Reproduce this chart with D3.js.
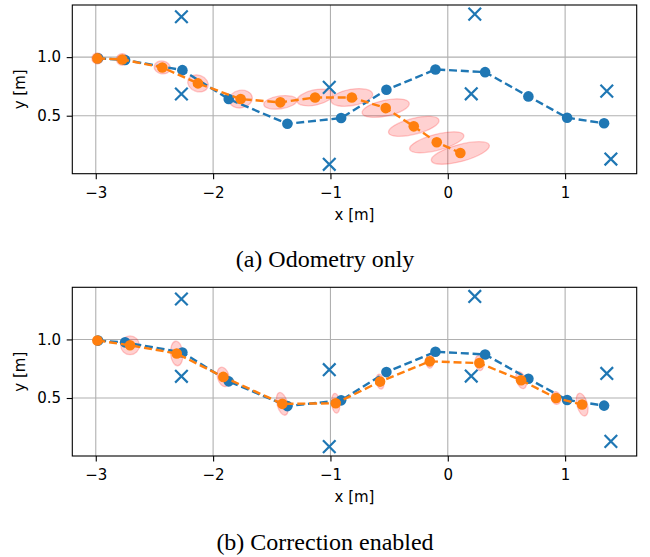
<!DOCTYPE html>
<html>
<head>
<meta charset="utf-8">
<script src="https://cdn.jsdelivr.net/npm/d3@7"></script>
<style>
  body { margin: 0; background: #fff; }
  svg { display: block; }
</style>
</head>
<body>
<div id="chart"></div>
<script>
// axis ticks
var xTicks = [-3, -2, -1, 0, 1]
var yTicks = [0.5, 1.0]
var xDomain = [-3.2, 1.61]
var yDomain = [0.005, 1.445]

// landmarks (x markers)
var landmarkX = [-2.27, -2.27, -1.01, -1.01, 0.23, 0.2, 1.355, 1.39]
var landmarkY = [1.345, 0.685, 0.742, 0.085, 1.367, 0.687, 0.71, 0.13]

// ground truth path (blue)
var truthX = [-2.98, -2.75, -2.262, -1.867, -1.367, -0.909, -0.523, -0.105, 0.318, 0.687, 1.017, 1.332]
var truthY = [0.99, 0.975, 0.889, 0.642, 0.431, 0.48, 0.721, 0.895, 0.872, 0.665, 0.483, 0.435]

// (a) odometry only estimate (orange) and covariance ellipses
var odomX = [-2.986, -2.774, -2.433, -2.129, -1.765, -1.427, -1.131, -0.818, -0.529, -0.29, -0.094, 0.107]
var odomY = [0.989, 0.98, 0.912, 0.776, 0.642, 0.614, 0.656, 0.656, 0.565, 0.409, 0.273, 0.182]
var odomEllW = [0.095, 0.1, 0.14, 0.18, 0.2, 0.285, 0.315, 0.36, 0.41, 0.443, 0.477, 0.511]
var odomEllH = [0.095, 0.1, 0.11, 0.14, 0.15, 0.11, 0.13, 0.14, 0.136, 0.136, 0.136, 0.145]
var odomEllA = [0, 0, -10, -20, 10, 8, 12, 10, 12, 14, 14.6, 15]

// (b) correction enabled estimate (orange) and covariance ellipses
var corrX = [-2.986, -2.708, -2.31, -1.913, -1.41, -0.955, -0.577, -0.153, 0.269, 0.625, 0.923, 1.145]
var corrY = [0.991, 0.95, 0.88, 0.68, 0.45, 0.455, 0.64, 0.813, 0.798, 0.652, 0.5, 0.444]
var corrEllW = [0.03, 0.16, 0.105, 0.1, 0.09, 0.07, 0.065, 0.065, 0.07, 0.08, 0.08, 0.09]
var corrEllH = [0.03, 0.16, 0.21, 0.17, 0.2, 0.17, 0.13, 0.12, 0.13, 0.15, 0.11, 0.2]
var corrEllA = [0, 0, 5, 15, 15, 5, 10, 0, 10, 20, 10, 15]

var width = 650, height = 557
var frameLeft = 72.3, frameRight = 636.7, frameH = 168.7
var blue = "#1f77b4", orange = "#ff7f0e"

var svg = d3.select("#chart")
  .append("svg")
    .attr("width", width)
    .attr("height", height)
    .style("font-family", "'DejaVu Sans', sans-serif")

function zipPoints(xs, ys) {
  return xs.map(function(d, i) { return { x: d, y: ys[i] } })
}

function drawPanel(top, estX, estY, ellW, ellH, ellA, caption, captionY) {
  var g = svg.append("g").attr("transform", "translate(0," + top + ")")

  var x = d3.scaleLinear().domain(xDomain).range([frameLeft, frameRight])
  var y = d3.scaleLinear().domain(yDomain).range([frameH, 0])

  // Grid
  g.append("g").selectAll("line")
    .data(xTicks)
    .join("line")
      .attr("x1", function(d) { return x(d) })
      .attr("x2", function(d) { return x(d) })
      .attr("y1", 0)
      .attr("y2", frameH)
      .attr("stroke", "#b0b0b0")
      .attr("stroke-width", 1.1)
  g.append("g").selectAll("line")
    .data(yTicks)
    .join("line")
      .attr("x1", frameLeft)
      .attr("x2", frameRight)
      .attr("y1", function(d) { return y(d) })
      .attr("y2", function(d) { return y(d) })
      .attr("stroke", "#b0b0b0")
      .attr("stroke-width", 1.1)

  // Covariance ellipses
  var ell = estX.map(function(d, i) {
    return { x: d, y: estY[i], w: ellW[i], h: ellH[i], a: ellA[i] }
  })
  g.append("g").selectAll("ellipse")
    .data(ell)
    .join("ellipse")
      .attr("cx", 0)
      .attr("cy", 0)
      .attr("rx", function(d) { return x(d.w / 2) - x(0) })
      .attr("ry", function(d) { return y(0) - y(d.h / 2) })
      .attr("transform", function(d) {
        return "translate(" + x(d.x) + "," + y(d.y) + ") rotate(" + (-d.a) + ")"
      })
      .attr("fill", "rgba(255,0,0,0.18)")
      .attr("stroke", "rgba(255,0,0,0.2)")
      .attr("stroke-width", 1.3)

  // Landmarks
  g.append("g").selectAll("path")
    .data(zipPoints(landmarkX, landmarkY))
    .join("path")
      .attr("d", function(d) {
        var cx = x(d.x), cy = y(d.y), s = 6.3
        return "M" + (cx - s) + "," + (cy - s) + "L" + (cx + s) + "," + (cy + s) +
               "M" + (cx - s) + "," + (cy + s) + "L" + (cx + s) + "," + (cy - s)
      })
      .attr("stroke", blue)
      .attr("stroke-width", 2.2)
      .attr("fill", "none")

  var line = d3.line()
    .x(function(d) { return x(d.x) })
    .y(function(d) { return y(d.y) })

  // Ground truth, then estimate
  var series = [
    { pts: zipPoints(truthX, truthY), color: blue },
    { pts: zipPoints(estX, estY), color: orange }
  ]
  series.forEach(function(s) {
    g.append("path")
      .datum(s.pts)
      .attr("d", line)
      .attr("fill", "none")
      .attr("stroke", s.color)
      .attr("stroke-width", 2.4)
      .attr("stroke-dasharray", "8,3.8")
    g.append("g").selectAll("circle")
      .data(s.pts)
      .join("circle")
        .attr("cx", function(d) { return x(d.x) })
        .attr("cy", function(d) { return y(d.y) })
        .attr("r", 5.3)
        .attr("fill", s.color)
  })

  // Frame
  g.append("rect")
    .attr("x", frameLeft)
    .attr("y", 0)
    .attr("width", frameRight - frameLeft)
    .attr("height", frameH)
    .attr("fill", "none")
    .attr("stroke", "#000")
    .attr("stroke-width", 1.1)

  // X axis
  var xAxis = g.append("g")
    .attr("transform", "translate(0," + frameH + ")")
    .call(d3.axisBottom(x).tickValues(xTicks).tickSize(5.6).tickPadding(8).tickFormat(d3.format("d")))
  xAxis.select(".domain").remove()

  // Y axis
  var yAxis = g.append("g")
    .attr("transform", "translate(" + frameLeft + ",0)")
    .call(d3.axisLeft(y).tickValues(yTicks).tickSize(5.6).tickPadding(5.7).tickFormat(d3.format(".1f")))
  yAxis.select(".domain").remove()

  g.selectAll(".tick line").attr("stroke", "#000").attr("stroke-width", 1.1)
  g.selectAll(".tick text")
    .attr("font-family", "'DejaVu Sans', sans-serif")
    .attr("font-size", 15)
    .attr("fill", "#000")

  // Axis labels
  g.append("text")
    .attr("x", (frameLeft + frameRight) / 2)
    .attr("y", frameH + 46)
    .attr("text-anchor", "middle")
    .style("font-size", "15px")
    .text("x [m]")
  g.append("text")
    .attr("transform", "translate(24.7," + (frameH / 2) + ") rotate(-90)")
    .attr("text-anchor", "middle")
    .style("font-size", "15px")
    .text("y [m]")

  // Caption
  svg.append("text")
    .attr("x", 325)
    .attr("y", captionY)
    .attr("text-anchor", "middle")
    .style("font-family", "'Liberation Serif', 'Times New Roman', serif")
    .style("font-size", "24px")
    .text(caption)
}

drawPanel(5, odomX, odomY, odomEllW, odomEllH, odomEllA, "(a) Odometry only", 267)
drawPanel(287.3, corrX, corrY, corrEllW, corrEllH, corrEllA, "(b) Correction enabled", 550)
</script>
</body>
</html>
